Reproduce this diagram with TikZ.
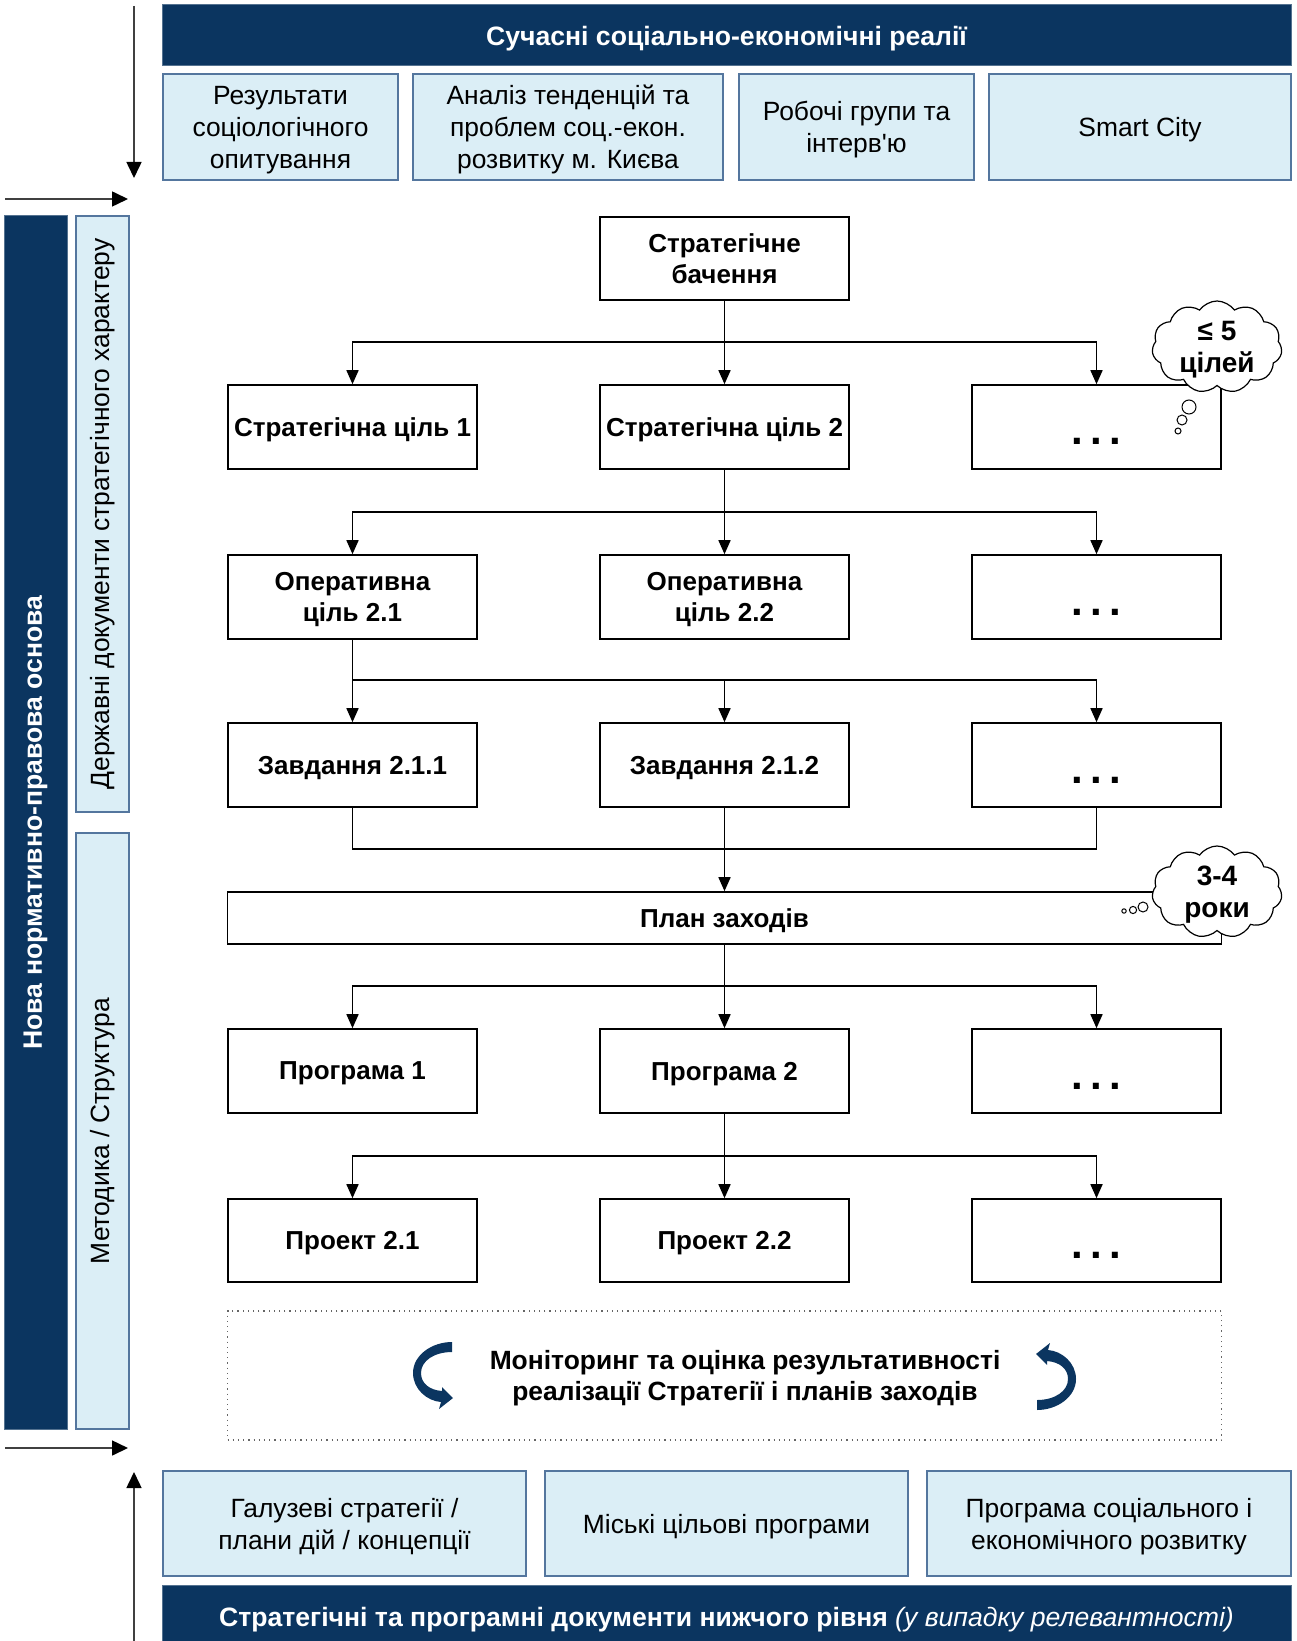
\documentclass[tikz,border=0pt]{standalone}
\usepackage{fontspec}
\setmainfont{Liberation Sans}
\newfontfamily\plainfont{Liberation Sans}
\usetikzlibrary{positioning,arrows.meta,shapes.symbols}
\definecolor{navy}{RGB}{11,53,96}
\definecolor{paleblue}{RGB}{219,238,246}
\definecolor{paleedge}{RGB}{84,118,158}
\newcommand{\fs}[2]{\fontsize{#1}{#2}\selectfont}
\newcommand{\more}{\rule{0pt}{18pt}.\kern3.6pt.\kern3.6pt.}
% curved arrow beside the monitoring text: x y angle
\newcommand{\looparrow}[3]{
	\fill[navy, shift={(#1,#2)}, rotate=#3] (20,-33)
	.. controls (0,-33) and (-19,-20) .. (-19,-2)
	.. controls (-19,14) and (-5,26) .. (9,27)
	-- (7,34) -- (21,23) -- (10,12) -- (10,16)
	.. controls (-3,15) and (-11,8) .. (-11,-2)
	.. controls (-11,-14) and (2,-23) .. (20,-23) -- cycle;
}
\tikzset{
	flow/.style={draw, line width=0.8pt, fill=white, minimum width=124.5pt, minimum height=42pt, inner sep=1pt, text depth=0pt, align=center, font=\fs{13}{15.5}\bfseries},
	dots/.style={flow, font=\fs{21}{22}\bfseries},
	darkbar/.style={fill=navy, draw=navy!70, line width=0.5pt, text=white, inner sep=1pt, align=center, font=\fs{13.3}{15.5}\bfseries},
	source/.style={fill=paleblue, draw=paleedge, line width=0.6pt, inner sep=1pt, align=center, font=\fs{13.2}{16}},
	feed/.style={source, text depth=0pt},
	link/.style={-{Triangle[length=7pt,width=6pt]}, line width=0.8pt},
	pipe/.style={line width=0.8pt},
	side/.style={-{Triangle[length=8pt,width=7.5pt,color=black]}, line width=0.8pt, black!75},
	thought/.style={cloud, cloud puffs=11, cloud puff arc=110, aspect=1.4, draw, fill=white, line width=0.6pt, minimum width=65pt, minimum height=46pt, inner sep=-4pt, text depth=0pt, align=center, font=\fs{14}{16}\bfseries}
}

\begin{document}
\begin{tikzpicture}[x=0.5pt, y=-0.5pt]
\useasboundingbox (0,0) rectangle (1296,1641);

% top sources
\node[darkbar, text depth=0pt, minimum width=564.5pt, minimum height=30.5pt] (reality) at (726.5,35.5) {Сучасні соціально-економічні реалії};
\node[feed, minimum width=117.5pt, minimum height=53pt] (survey) at (280.5,127) {Результати\\соціологічного\\опитування};
\node[feed, minimum width=155pt, minimum height=53pt] (trends) at (568,127) {Аналіз тенденцій та\\проблем соц.-екон.\\розвитку м. Києва};
\node[feed, minimum width=117.5pt, minimum height=53pt] (groups) at (856.5,127) {Робочі групи та\\інтерв{\plainfont\char39}ю};
\node[feed, minimum width=151pt, minimum height=53pt] (smart) at (1140,127) {Smart City};

% left side
\node[darkbar, rotate=90, minimum width=606.5pt, minimum height=31.5pt] (legal) at (35.5,822.5) {Нова нормативно-правова основа};
\node[source, rotate=90, minimum width=298pt, minimum height=26.5pt] (statedocs) at (102.5,514) {Державні документи стратегічного характеру};
\node[source, rotate=90, minimum width=298pt, minimum height=26.5pt] (method) at (102.5,1131) {Методика / Структура};

\coordinate (inA) at (134,6);
\coordinate (inB) at (134,178);
\coordinate (inC) at (5,199);
\coordinate (inD) at (128,199);
\coordinate (outA) at (5,1448);
\coordinate (outB) at (128,1448);
\coordinate (outC) at (134,1645);
\coordinate (outD) at (134,1472);
\draw[side] (inA) -- (inB);
\draw[side] (inC) -- (inD);
\draw[side] (outA) -- (outB);
\draw[side] (outC) -- (outD);

% strategy tree
\node[flow, minimum height=41.5pt] (vision) at (724.5,258.5) {Стратегічне\\бачення};
\node[flow] (goal1) at (352.5,427) {Стратегічна ціль 1};
\node[flow] (goal2) at (724.5,427) {Стратегічна ціль 2};
\node[dots] (goal3) at (1096.5,427) {\more};
\node[flow] (op1) at (352.5,597) {Оперативна\\ціль 2.1};
\node[flow] (op2) at (724.5,597) {Оперативна\\ціль 2.2};
\node[dots] (op3) at (1096.5,597) {\more};
\node[flow] (task1) at (352.5,765) {Завдання 2.1.1};
\node[flow] (task2) at (724.5,765) {Завдання 2.1.2};
\node[dots] (task3) at (1096.5,765) {\more};
\node[flow, minimum width=497pt, minimum height=26pt] (plan) at (724.5,918) {План заходів};
\node[flow] (prog1) at (352.5,1071) {Програма 1};
\node[flow] (prog2) at (724.5,1071) {Програма 2};
\node[dots] (prog3) at (1096.5,1071) {\more};
\node[flow, minimum height=41.5pt] (proj1) at (352.5,1240.5) {Проект 2.1};
\node[flow, minimum height=41.5pt] (proj2) at (724.5,1240.5) {Проект 2.2};
\node[dots, minimum height=41.5pt] (proj3) at (1096.5,1240.5) {\more};

\coordinate (fork1) at (724.5,342);
\coordinate (fork2) at (724.5,512);
\coordinate (fork3) at (352.5,680);
\coordinate (join) at (724.5,849);
\coordinate (fork5) at (724.5,986);
\coordinate (fork6) at (724.5,1156);

\draw[link] (vision) -- (goal2);
\draw[link] (fork1) -| (goal1);
\draw[link] (fork1) -| (goal3);
\draw[link] (goal2) -- (op2);
\draw[link] (fork2) -| (op1);
\draw[link] (fork2) -| (op3);
\draw[link] (op1) -- (task1);
\draw[link] (fork3) -| (task2);
\draw[link] (fork3) -| (task3);
\draw[pipe] (task1) |- (join) -| (task3);
\draw[link] (task2) -- (plan);
\draw[link] (plan) -- (prog2);
\draw[link] (fork5) -| (prog1);
\draw[link] (fork5) -| (prog3);
\draw[link] (prog2) -- (proj2);
\draw[link] (fork6) -| (proj1);
\draw[link] (fork6) -| (proj3);

% thought clouds
\node[thought] (fivegoals) at (1217,347) {≤ 5\\цілей};
\draw[line width=0.5pt, fill=white] (1189,407) circle (3.5pt) (1182,420) circle (2.5pt) (1178,431) circle (1.5pt);
\node[thought] (years) at (1217,892) {3-4\\роки};
\draw[line width=0.5pt, fill=white] (1143,907) circle (2.5pt) (1133,910) circle (1.8pt) (1124,911) circle (1.1pt);

% monitoring
\node[draw=black!60, dotted, line width=0.6pt, minimum width=497pt, minimum height=64.5pt] (monitor) at (724.5,1375.5) {};
\node[align=center, font=\fs{13.2}{15.5}\bfseries] (montext) at (745,1378) {Моніторинг та оцінка результативності\\реалізації Стратегії і планів заходів};
\looparrow{432}{1375}{0}
\looparrow{1057}{1377}{180}

% lower documents
\node[feed, minimum width=181.5pt, minimum height=52.5pt] (sectoral) at (344.5,1523.5) {Галузеві стратегії /\\плани дій / концепції};
\node[feed, minimum width=181.5pt, minimum height=52.5pt] (cityprog) at (726.5,1523.5) {Міські цільові програми};
\node[feed, minimum width=182pt, minimum height=52.5pt] (devprog) at (1109,1523.5) {Програма соціального і\\економічного розвитку};
\node[darkbar, text depth=0pt, minimum width=564.5pt, minimum height=32pt] (lowerdocs) at (726.5,1617) {Стратегічні та програмні документи нижчого рівня \textit{\mdseries(у випадку релевантності)}};
\end{tikzpicture}
\end{document}
